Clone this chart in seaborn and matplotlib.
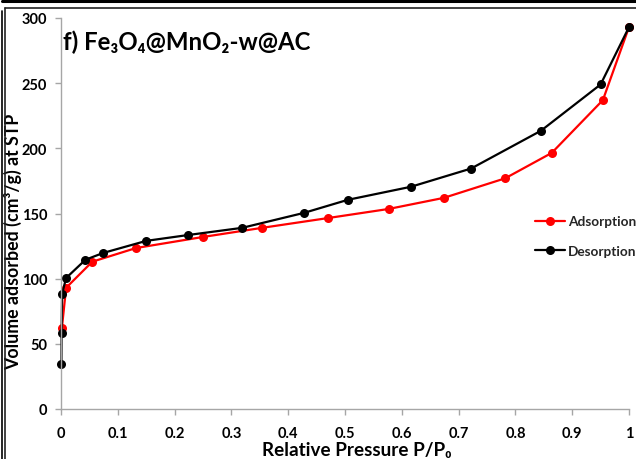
import matplotlib
matplotlib.use("Agg")
import matplotlib.pyplot as plt
import seaborn as sns
import pandas as pd
from matplotlib.lines import Line2D
from matplotlib import font_manager

# Data
ads_p = [0.0015, 0.009, 0.055, 0.132, 0.25, 0.354, 0.47, 0.577, 0.674, 0.782, 0.864, 0.954, 1.0]
ads_v = [62, 93, 113, 123.5, 132, 139, 146.5, 153.5, 162, 177, 196.5, 237, 293]
des_p = [0.0008, 0.001, 0.002, 0.009, 0.043, 0.074, 0.15, 0.224, 0.319, 0.428, 0.505, 0.616, 0.722, 0.845, 0.95, 1.0]
des_v = [34.5, 58, 88.5, 100.5, 114.5, 119.7, 129, 133.5, 139, 150.5, 160.5, 170.5, 184.5, 213.5, 249, 293]
x_ticks = [0, 0.1, 0.2, 0.3, 0.4, 0.5, 0.6, 0.7, 0.8, 0.9, 1.0]
x_tick_labels = ["0", "0.1", "0.2", "0.3", "0.4", "0.5", "0.6", "0.7", "0.8", "0.9", "1"]
y_ticks = [0, 50, 100, 150, 200, 250, 300]

sns.set_theme(style="white")
bold_lato = [f for f in font_manager.fontManager.ttflist if f.name == 'Lato' and
             (f.weight in ('bold', 'heavy', 'black') or (isinstance(f.weight, int) and f.weight >= 700))]
fam = ['Lato', 'DejaVu Sans'] if bold_lato else ['Open Sans', 'DejaVu Sans']
plt.rcParams['font.family'] = fam
plt.rcParams['font.weight'] = 'bold'

fig = plt.figure(figsize=(6.36, 4.6), dpi=100)
ax = fig.add_axes([61/636, 1-410/460, (629-61)/636, (410-19)/460])

ads = pd.DataFrame({"p": ads_p, "v": ads_v})
des = pd.DataFrame({"p": des_p, "v": des_v})

sns.lineplot(data=ads, x="p", y="v", sort=False, estimator=None, color="#FF0000", lw=1.6,
             marker="o", markersize=6.5, markeredgewidth=0, ax=ax, clip_on=False)
sns.lineplot(data=des, x="p", y="v", sort=False, estimator=None, color="black", lw=1.6,
             marker="o", markersize=6.5, markeredgewidth=0, ax=ax, clip_on=False)

ax.set_xlim(0, 1)
ax.set_ylim(0, 300)
ax.set_xticks(x_ticks)
ax.set_xticklabels(x_tick_labels)
ax.set_yticks(y_ticks)
for lab in ax.get_xticklabels() + ax.get_yticklabels():
    lab.set_fontweight('bold')
    lab.set_fontsize(10.5)
    lab.set_color('black')

for s in ['top', 'right']:
    ax.spines[s].set_visible(False)
for s in ['left', 'bottom']:
    ax.spines[s].set_color('#A6A6A6')
    ax.spines[s].set_linewidth(1.0)
ax.tick_params(axis='both', direction='out', length=4, width=1.0, color='#A6A6A6',
               left=True, bottom=True)
ax.tick_params(axis='x', pad=8)
ax.tick_params(axis='y', pad=6)

ax.set_xlabel("Relative Pressure P/P\u2080", fontsize=13.6, fontweight='bold', color='black')
ax.set_ylabel("Volume adsorbed (cm\u00b3/g) at STP", fontsize=12.8, fontweight='bold', color='black')
ax.xaxis.label.set_va('center')
ax.yaxis.label.set_va('center')
ax.xaxis.set_label_coords((357-61)/568, (410-451)/391)
ax.yaxis.set_label_coords((13-61)/568, (410-242)/391)

ax.text(0.003, 0.94, "f) Fe\u2083O\u2084@MnO\u2082-w@AC", transform=ax.transAxes,
        fontsize=17.3, fontweight='bold', ha='left', va='center', color='black')

handles = [Line2D([], [], color="#FF0000", lw=1.6, marker='o', markersize=6.5, markeredgewidth=0),
           Line2D([], [], color="black", lw=1.6, marker='o', markersize=6.5, markeredgewidth=0)]
leg = fig.legend(handles, ["Adsorption", "Desorption"], loc='upper left',
           bbox_to_anchor=(530/636, 1-211/460), frameon=False,
           prop={'size': 9.8, 'weight': 'bold', 'family': fam},
           handlelength=2.2, handletextpad=0.2, labelspacing=1.3, borderaxespad=0)

# Figure frame lines
fig.add_artist(Line2D([2/636, 1], [1-1.5/460, 1-1.5/460], transform=fig.transFigure, color='black', lw=2.2))
fig.add_artist(Line2D([4.5/636, 1], [1-9/460, 1-9/460], transform=fig.transFigure, color='#222222', lw=1.2))
fig.add_artist(Line2D([4.5/636, 4.5/636], [0, 1-9/460], transform=fig.transFigure, color='#222222', lw=1.2))
fig.add_artist(Line2D([1.5/636, 1.5/636], [0, 1-12/460], transform=fig.transFigure, color='black', lw=1.2))

fig.savefig("out.png", dpi=100)
